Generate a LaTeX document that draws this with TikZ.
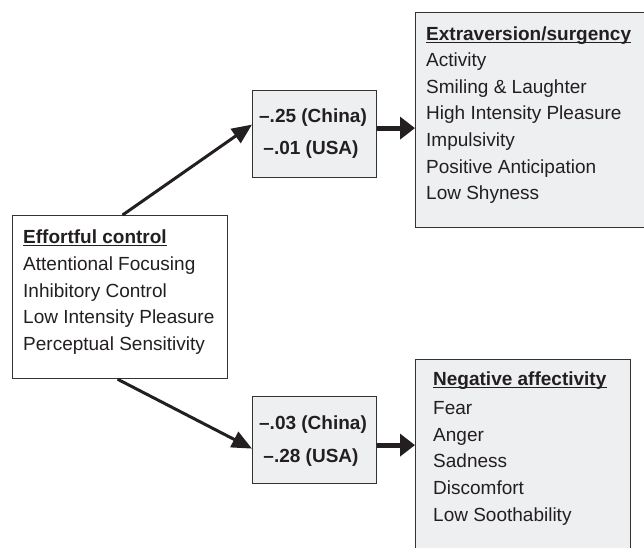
\documentclass[tikz,border=0pt]{standalone}
\usepackage{fontspec}
\setmainfont{Liberation Sans}
\usetikzlibrary{arrows.meta}
\definecolor{boxfill}{HTML}{EEEFF1}
\definecolor{boxline}{HTML}{333333}
\definecolor{txt}{HTML}{231F20}
\tikzset{
  box/.style={draw=boxline, line width=1.2pt, anchor=north west, inner sep=0pt, minimum width=#1},
  grey/.style={fill=boxfill},
  lbl/.style={font=\fontsize{19}{23}\selectfont, text=txt, inner sep=0pt, anchor=base west},
  hd/.style={lbl, font=\fontsize{19}{23}\selectfont\bfseries},
  num/.style={font=\fontsize{19}{23}\selectfont\bfseries, text=txt, inner sep=0pt, anchor=base},
  ul/.style={draw=txt, line width=1.4pt},
  thinarrow/.style={draw=txt, line width=3pt, -{Triangle[length=20pt, width=17pt]}},
  thickarrow/.style={draw=txt, line width=5pt, -{Triangle[length=15pt, width=22pt]}}
}
\begin{document}
\begin{tikzpicture}[x=1pt, y=-1pt]
\useasboundingbox (0,0) rectangle (644,547);
% boxes
\node[box=215pt, minimum height=163pt, fill=white] (ec) at (12,215) {};
\node[box=124pt, minimum height=87pt, grey] (r1) at (252,90) {};
\node[box=124pt, minimum height=87pt, grey] (r2) at (252,396) {};
\node[box=245pt, minimum height=215pt, grey] (ex) at (415,12) {};
\node[box=215pt, minimum height=200pt, grey] (na) at (415,359) {};
% effortful control
\node[hd] (ech) at (23,243) {Effortful control};
\draw[ul] ([yshift=-2.5pt]ech.base west) -- ([yshift=-2.5pt]ech.base east);
\node[lbl] (ec1) at (23,270.5) {Attentional Focusing};
\node[lbl] (ec2) at (23,297) {Inhibitory Control};
\node[lbl] (ec3) at (23,323.5) {Low Intensity Pleasure};
\node[lbl] (ec4) at (23,350) {Perceptual Sensitivity};
% coefficients
\node[num] (r1a) at (313,122) {–.25 (China)};
\node[num] (r1b) at (311,154) {–.01 (USA)};
\node[num] (r2a) at (313,429) {–.03 (China)};
\node[num] (r2b) at (311,462) {–.28 (USA)};
% extraversion
\node[hd] (exh) at (426,40) {Extraversion/surgency};
\draw[ul] ([yshift=-2.5pt]exh.base west) -- ([yshift=-2.5pt]exh.base east);
\node[lbl] (ex1) at (426,66.6) {Activity};
\node[lbl] (ex2) at (426,93.2) {Smiling \& Laughter};
\node[lbl] (ex3) at (426,119.8) {High Intensity Pleasure};
\node[lbl] (ex4) at (426,146.4) {Impulsivity};
\node[lbl] (ex5) at (426,173) {Positive Anticipation};
\node[lbl] (ex6) at (426,199.6) {Low Shyness};
% negative affectivity
\node[hd] (nah) at (433,385) {Negative affectivity};
\draw[ul] ([yshift=-2.5pt]nah.base west) -- ([yshift=-2.5pt]nah.base east);
\node[lbl] (na1) at (433,414) {Fear};
\node[lbl] (na2) at (433,441) {Anger};
\node[lbl] (na3) at (433,467.5) {Sadness};
\node[lbl] (na4) at (433,494) {Discomfort};
\node[lbl] (na5) at (433,521) {Low Soothability};
% connectors
\draw[thinarrow] ([xshift=2.5pt]ec.north) -- ([yshift=9.5pt]r1.west);
\draw[thinarrow] ([xshift=-2.5pt]ec.south) -- ([yshift=-8.5pt]r2.west);
\draw[thickarrow] ([yshift=6pt]r1.east) -- ([yshift=6pt]r1.east -| ex.west);
\draw[thickarrow] ([yshift=-5pt]r2.east) -- ([yshift=-5pt]r2.east -| na.west);
\end{tikzpicture}
\end{document}
